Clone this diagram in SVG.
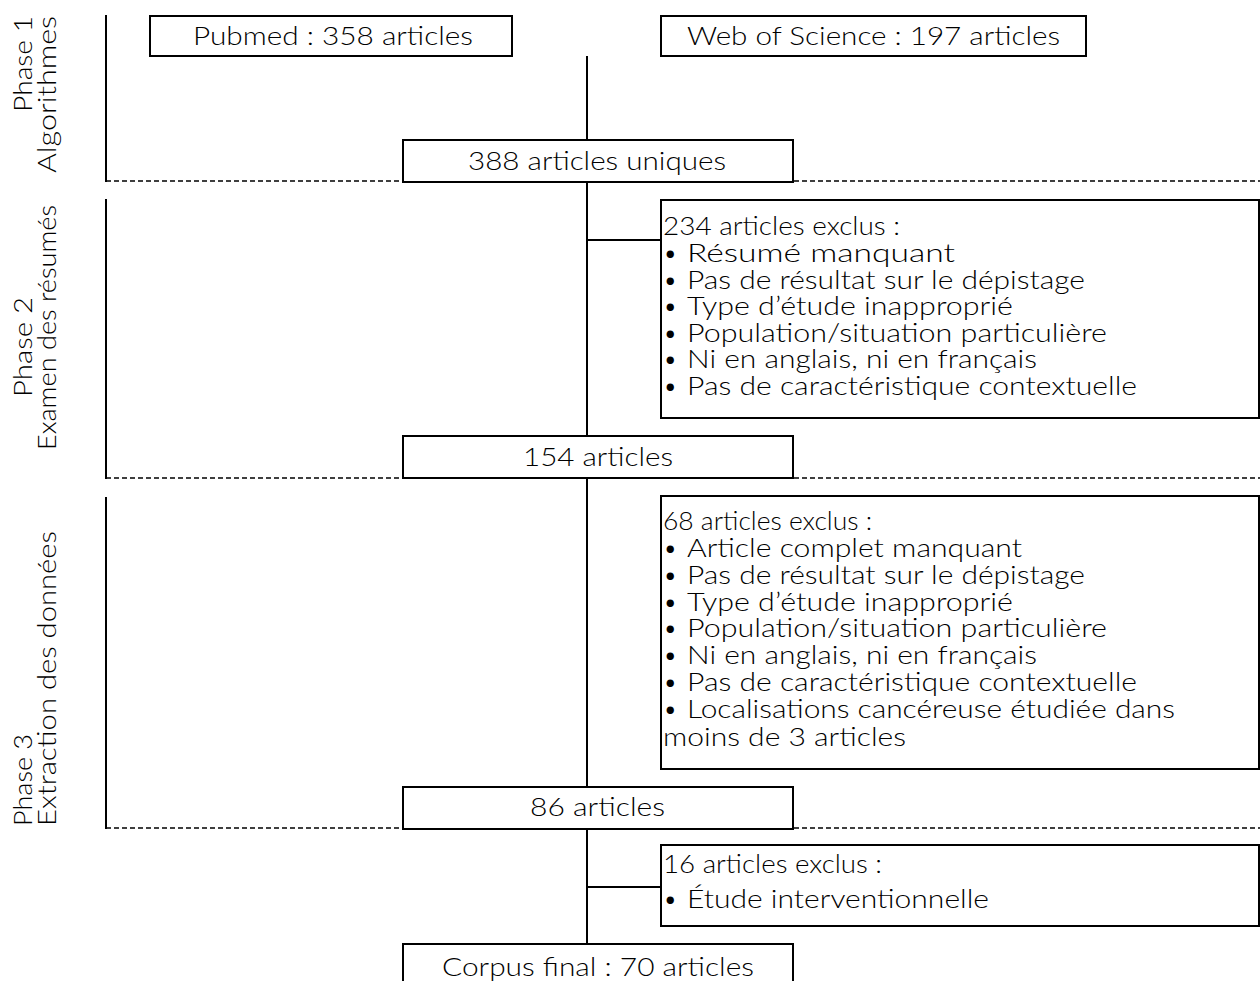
<svg xmlns="http://www.w3.org/2000/svg" width="1260" height="981" viewBox="0 0 1260 981">
<style>
.box{fill:#fff;stroke:#000;stroke-width:2}
.ln{stroke:#000;stroke-width:2;fill:none}
.dash{stroke:#000;stroke-width:1.5;stroke-dasharray:5 3;fill:none}
text{font-family:Lato,"Open Sans","Liberation Sans",sans-serif;font-weight:300;font-size:25px;fill:#000}
</style>
<rect width="1260" height="981" fill="#fff"/>
<g id="phase-frames">
<line class="dash" x1="106" y1="181" x2="1260" y2="181"/>
<line class="dash" x1="106" y1="478" x2="1260" y2="478"/>
<line class="dash" x1="106" y1="828" x2="1260" y2="828"/>
<line class="ln" x1="106" y1="15" x2="106" y2="182"/>
<line class="ln" x1="106" y1="199" x2="106" y2="479"/>
<line class="ln" x1="106" y1="497" x2="106" y2="829"/>
</g>
<g id="phase-labels">
<text transform="translate(32,112) rotate(-90)" textLength="96" lengthAdjust="spacingAndGlyphs">Phase 1</text>
<text transform="translate(56,173) rotate(-90)" textLength="157" lengthAdjust="spacingAndGlyphs">Algorithmes</text>
<text transform="translate(32,397) rotate(-90)" textLength="100" lengthAdjust="spacingAndGlyphs">Phase 2</text>
<text transform="translate(56,450) rotate(-90)" textLength="245" lengthAdjust="spacingAndGlyphs">Examen des résumés</text>
<text transform="translate(32,826) rotate(-90)" textLength="92" lengthAdjust="spacingAndGlyphs">Phase 3</text>
<text transform="translate(56,826) rotate(-90)" textLength="295" lengthAdjust="spacingAndGlyphs">Extraction des données</text>
</g>
<g id="connectors">
<line class="ln" x1="587" y1="56" x2="587" y2="140"/>
<line class="ln" x1="587" y1="182" x2="587" y2="436"/>
<line class="ln" x1="587" y1="478" x2="587" y2="787"/>
<line class="ln" x1="587" y1="829" x2="587" y2="944"/>
<line class="ln" x1="587" y1="240" x2="661" y2="240"/>
<line class="ln" x1="587" y1="887" x2="661" y2="887"/>
</g>
<g id="pubmed">
<rect class="box" x="150" y="16" width="362" height="40"/>
<text x="193" y="45" textLength="280" lengthAdjust="spacingAndGlyphs">Pubmed : 358 articles</text>
</g>
<g id="wos">
<rect class="box" x="661" y="16" width="425" height="40"/>
<text x="687" y="45" textLength="373" lengthAdjust="spacingAndGlyphs">Web of Science : 197 articles</text>
</g>
<g id="uniques">
<rect class="box" x="403" y="140" width="390" height="42"/>
<text x="468" y="170" textLength="258" lengthAdjust="spacingAndGlyphs">388 articles uniques</text>
</g>
<g id="excl-234">
<rect class="box" x="661" y="200" width="598" height="218"/>
<text x="663" y="235" textLength="237" lengthAdjust="spacingAndGlyphs">234 articles exclus :</text>
<text y="262"><tspan x="663">•</tspan><tspan x="687" textLength="268" lengthAdjust="spacingAndGlyphs">Résumé manquant</tspan></text>
<text y="289"><tspan x="663">•</tspan><tspan x="687" textLength="398" lengthAdjust="spacingAndGlyphs">Pas de résultat sur le dépistage</tspan></text>
<text y="315"><tspan x="663">•</tspan><tspan x="687" textLength="326" lengthAdjust="spacingAndGlyphs">Type d’étude inapproprié</tspan></text>
<text y="342"><tspan x="663">•</tspan><tspan x="687" textLength="420" lengthAdjust="spacingAndGlyphs">Population/situation particulière</tspan></text>
<text y="368"><tspan x="663">•</tspan><tspan x="687" textLength="350" lengthAdjust="spacingAndGlyphs">Ni en anglais, ni en français</tspan></text>
<text y="395"><tspan x="663">•</tspan><tspan x="687" textLength="450" lengthAdjust="spacingAndGlyphs">Pas de caractéristique contextuelle</tspan></text>
</g>
<g id="a154">
<rect class="box" x="403" y="436" width="390" height="42"/>
<text x="523" y="466" textLength="150" lengthAdjust="spacingAndGlyphs">154 articles</text>
</g>
<g id="excl-68">
<rect class="box" x="661" y="496" width="598" height="273"/>
<text x="663" y="530" textLength="209" lengthAdjust="spacingAndGlyphs">68 articles exclus :</text>
<text y="557"><tspan x="663">•</tspan><tspan x="687" textLength="335" lengthAdjust="spacingAndGlyphs">Article complet manquant</tspan></text>
<text y="584"><tspan x="663">•</tspan><tspan x="687" textLength="398" lengthAdjust="spacingAndGlyphs">Pas de résultat sur le dépistage</tspan></text>
<text y="611"><tspan x="663">•</tspan><tspan x="687" textLength="326" lengthAdjust="spacingAndGlyphs">Type d’étude inapproprié</tspan></text>
<text y="637"><tspan x="663">•</tspan><tspan x="687" textLength="420" lengthAdjust="spacingAndGlyphs">Population/situation particulière</tspan></text>
<text y="664"><tspan x="663">•</tspan><tspan x="687" textLength="350" lengthAdjust="spacingAndGlyphs">Ni en anglais, ni en français</tspan></text>
<text y="691"><tspan x="663">•</tspan><tspan x="687" textLength="450" lengthAdjust="spacingAndGlyphs">Pas de caractéristique contextuelle</tspan></text>
<text y="718"><tspan x="663">•</tspan><tspan x="687" textLength="488" lengthAdjust="spacingAndGlyphs">Localisations cancéreuse étudiée dans</tspan></text>
<text x="663" y="746" textLength="243" lengthAdjust="spacingAndGlyphs">moins de 3 articles</text>
</g>
<g id="a86">
<rect class="box" x="403" y="787" width="390" height="42"/>
<text x="530" y="816" textLength="135" lengthAdjust="spacingAndGlyphs">86 articles</text>
</g>
<g id="excl-16">
<rect class="box" x="661" y="845" width="598" height="81"/>
<text x="663" y="873" textLength="219" lengthAdjust="spacingAndGlyphs">16 articles exclus :</text>
<text y="908"><tspan x="663">•</tspan><tspan x="687" textLength="302" lengthAdjust="spacingAndGlyphs">Étude interventionnelle</tspan></text>
</g>
<g id="corpus">
<rect class="box" x="403" y="944" width="390" height="50"/>
<text x="442" y="976" textLength="312" lengthAdjust="spacingAndGlyphs">Corpus final : 70 articles</text>
</g>
</svg>
